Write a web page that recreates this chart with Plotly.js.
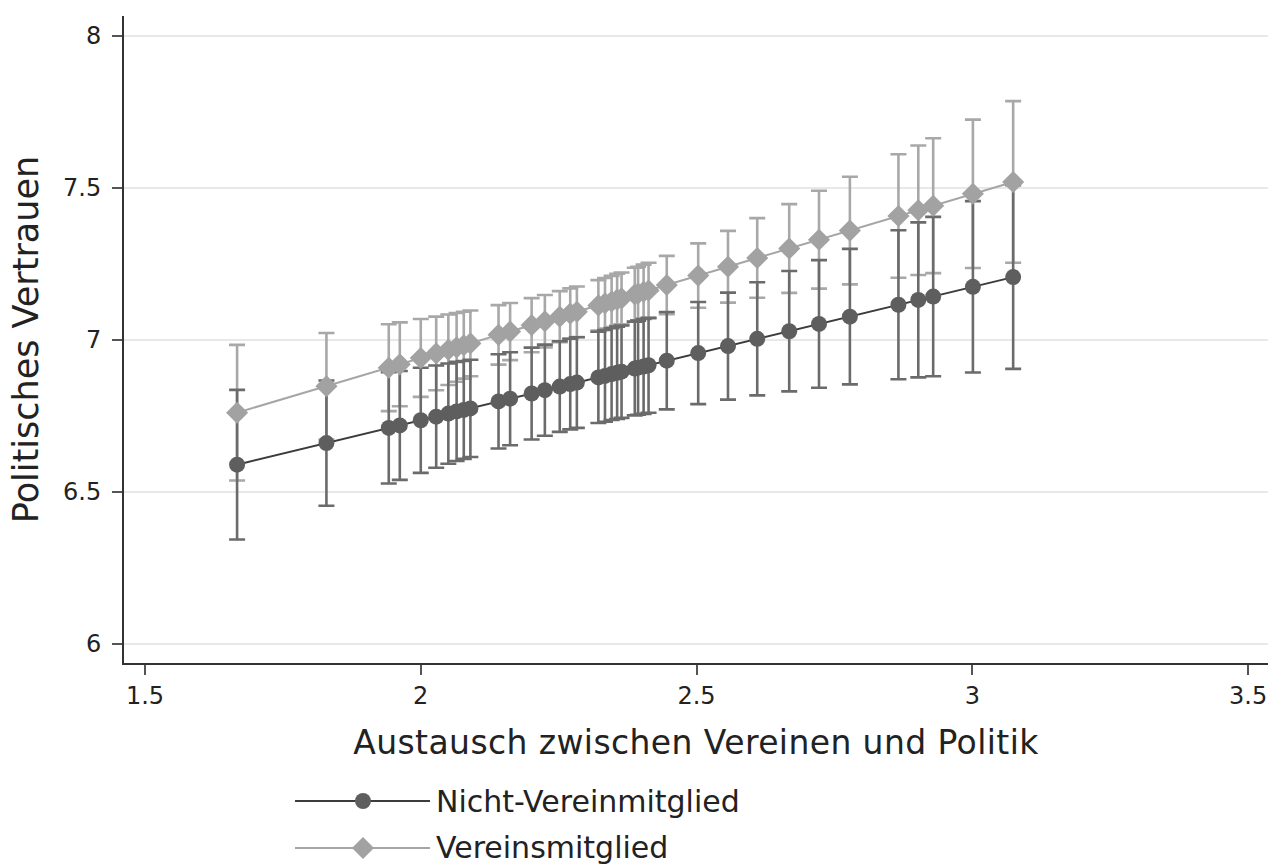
<!DOCTYPE html>
<html>
<head>
<meta charset="utf-8">
<script src="https://cdn.plot.ly/plotly-3.0.1.min.js"></script>
<style>
html,body{margin:0;padding:0;background:#fff;}
#chart{width:1277px;height:866px;}
#chart .xtitle{letter-spacing:0.4px;}
</style>
</head>
<body>
<div id="chart"></div>
<script>
// X values (Austausch zwischen Vereinen und Politik)
var xVals = [1.667, 1.829, 1.942, 1.962, 2.000, 2.028, 2.050, 2.065, 2.078, 2.090,
             2.141, 2.162, 2.201, 2.225, 2.252, 2.271, 2.283, 2.322, 2.334, 2.346,
             2.356, 2.364, 2.388, 2.394, 2.404, 2.413, 2.446, 2.503, 2.557, 2.610,
             2.668, 2.722, 2.778, 2.866, 2.902, 2.929, 3.001, 3.074];

// Nicht-Vereinmitglied: predicted values and CI half-widths
var nichtY = [6.590, 6.661, 6.711, 6.719, 6.736, 6.748, 6.758, 6.765, 6.770, 6.775,
              6.798, 6.807, 6.824, 6.835, 6.847, 6.855, 6.860, 6.877, 6.882, 6.888,
              6.892, 6.896, 6.906, 6.909, 6.913, 6.917, 6.932, 6.957, 6.980, 7.004,
              7.029, 7.053, 7.077, 7.116, 7.132, 7.143, 7.175, 7.207];
var nichtCI = [0.246, 0.206, 0.183, 0.179, 0.173, 0.168, 0.165, 0.163, 0.161, 0.160,
               0.155, 0.153, 0.151, 0.150, 0.149, 0.149, 0.149, 0.150, 0.151, 0.151,
               0.152, 0.152, 0.154, 0.155, 0.156, 0.156, 0.160, 0.168, 0.176, 0.186,
               0.198, 0.210, 0.223, 0.245, 0.255, 0.262, 0.282, 0.302];

// Vereinsmitglied: predicted values and CI half-widths
var vereinY = [6.761, 6.848, 6.909, 6.920, 6.941, 6.956, 6.968, 6.976, 6.983, 6.989,
               7.017, 7.028, 7.049, 7.062, 7.077, 7.087, 7.093, 7.114, 7.121, 7.127,
               7.133, 7.137, 7.150, 7.153, 7.159, 7.163, 7.181, 7.212, 7.241, 7.270,
               7.301, 7.330, 7.360, 7.408, 7.427, 7.442, 7.481, 7.520];
var vereinCI = [0.223, 0.175, 0.143, 0.138, 0.128, 0.121, 0.116, 0.113, 0.110, 0.108,
                0.098, 0.094, 0.089, 0.086, 0.084, 0.083, 0.083, 0.083, 0.083, 0.084,
                0.085, 0.085, 0.088, 0.088, 0.089, 0.091, 0.096, 0.106, 0.118, 0.131,
                0.146, 0.161, 0.177, 0.203, 0.213, 0.222, 0.244, 0.266];

var seriesNames = ["Nicht-Vereinmitglied", "Vereinsmitglied"];
var xTicks = [1.5, 2, 2.5, 3, 3.5];
var xTickText = ["1.5", "2", "2.5", "3", "3.5"];
var yTicks = [6, 6.5, 7, 7.5, 8];
var yTickText = ["6", "6.5", "7", "7.5", "8"];

var FONT = "DejaVu Sans, Noto Sans, sans-serif";
var darkMarker = "#5e5e5e", darkLine = "#3c3c3c", darkErr = "#6b6b6b";
var lightMarker = "#a2a2a2", lightLine = "#a6a6a6", lightErr = "#a8a8a8";

var traces = [
  { // light error bars
    x: xVals, y: vereinY, type: "scatter", mode: "markers",
    marker: {opacity: 0, size: 2}, showlegend: false, hoverinfo: "skip",
    error_y: {type: "data", array: vereinCI, visible: true, color: lightErr, thickness: 2.6, width: 8}
  },
  { // dark error bars
    x: xVals, y: nichtY, type: "scatter", mode: "markers",
    marker: {opacity: 0, size: 2}, showlegend: false, hoverinfo: "skip",
    error_y: {type: "data", array: nichtCI, visible: true, color: darkErr, thickness: 2.6, width: 8}
  },
  {
    x: xVals, y: nichtY, type: "scatter", mode: "lines+markers",
    name: seriesNames[0], showlegend: false,
    line: {color: darkLine, width: 2},
    marker: {symbol: "circle", size: 16, color: darkMarker}
  },
  {
    x: xVals, y: vereinY, type: "scatter", mode: "lines+markers",
    name: seriesNames[1], showlegend: false,
    line: {color: lightLine, width: 2},
    marker: {symbol: "diamond", size: 17, color: lightMarker}
  }
];

// Legend drawn below the plot (paper coordinates)
var legX0 = 0.1495, legX1 = 0.2675, legXm = 0.2089, legXt = 0.2710;
var legY = [-0.2133, -0.2859];
var shapes = [
  {type: "line", xref: "paper", yref: "paper", x0: legX0, x1: legX1, y0: legY[0], y1: legY[0],
   line: {color: darkLine, width: 2}},
  {type: "circle", xref: "paper", yref: "paper", xsizemode: "pixel", ysizemode: "pixel",
   xanchor: legXm, yanchor: legY[0], x0: -8, x1: 8, y0: -8, y1: 8,
   fillcolor: darkMarker, line: {width: 0}},
  {type: "line", xref: "paper", yref: "paper", x0: legX0, x1: legX1, y0: legY[1], y1: legY[1],
   line: {color: lightLine, width: 2}},
  {type: "path", xref: "paper", yref: "paper", xsizemode: "pixel", ysizemode: "pixel",
   xanchor: legXm, yanchor: legY[1], path: "M -11 0 L 0 -11 L 11 0 L 0 11 Z",
   fillcolor: lightMarker, line: {width: 0}}
];
var annotations = [
  {xref: "paper", yref: "paper", x: legXt, y: legY[0], xanchor: "left", yanchor: "middle",
   text: seriesNames[0], showarrow: false, font: {family: FONT, size: 30, color: "#222222"}},
  {xref: "paper", yref: "paper", x: legXt, y: legY[1], xanchor: "left", yanchor: "middle",
   text: seriesNames[1], showarrow: false, font: {family: FONT, size: 30, color: "#222222"}}
];

var layout = {
  width: 1277, height: 866,
  paper_bgcolor: "#ffffff", plot_bgcolor: "#ffffff",
  margin: {l: 124, r: 9, t: 16, b: 203},
  font: {family: FONT, color: "#222222", size: 24},
  showlegend: false,
  shapes: shapes,
  annotations: annotations,
  xaxis: {
    range: [1.462, 3.536],
    tickvals: xTicks, ticktext: xTickText,
    ticks: "outside", ticklen: 10, tickwidth: 2, tickcolor: "#555555",
    showline: true, linecolor: "#333333", linewidth: 2,
    showgrid: false, zeroline: false,
    tickfont: {family: FONT, size: 24, color: "#222222"},
    title: {text: "Austausch zwischen Vereinen und Politik", font: {family: FONT, size: 33, color: "#222222"}, standoff: 22}
  },
  yaxis: {
    range: [5.9375, 8.066],
    tickvals: yTicks, ticktext: yTickText,
    ticks: "outside", ticklen: 10, tickwidth: 2, tickcolor: "#555555",
    ticklabelstandoff: 6,
    showline: true, linecolor: "#333333", linewidth: 2,
    showgrid: true, gridcolor: "#e8e8e8", gridwidth: 2,
    zeroline: false,
    tickfont: {family: FONT, size: 24, color: "#222222"},
    title: {text: "Politisches Vertrauen", font: {family: FONT, size: 35, color: "#222222"}, standoff: 14}
  }
};

Plotly.newPlot("chart", traces, layout, {displayModeBar: false, staticPlot: true});
</script>
</body>
</html>
